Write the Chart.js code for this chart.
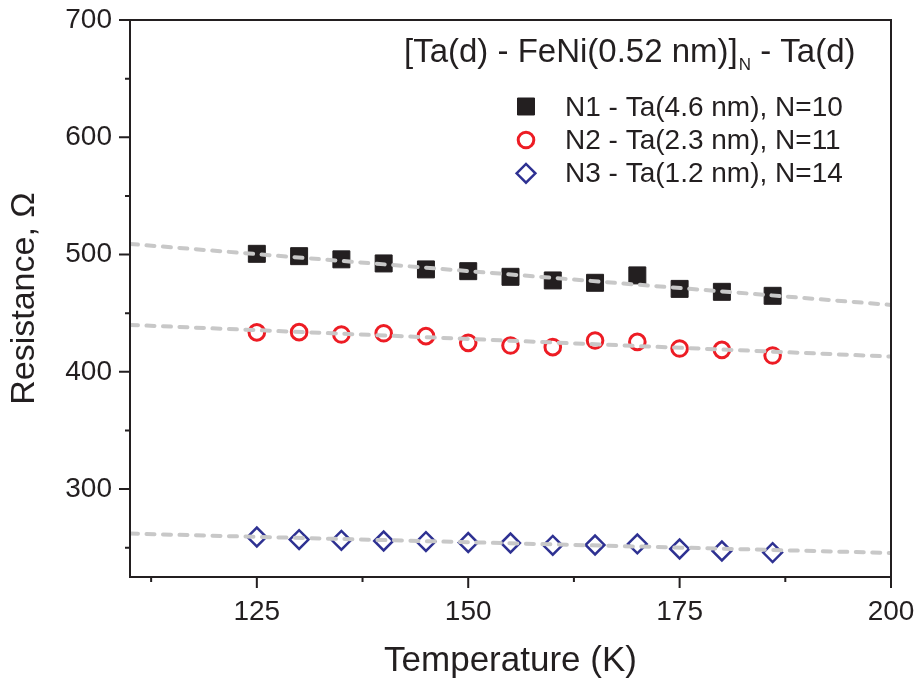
<!DOCTYPE html>
<html>
<head>
<meta charset="utf-8">
<script src="https://cdn.jsdelivr.net/npm/chart.js@4.4.0/dist/chart.umd.min.js"></script>
<style>
  html, body { margin: 0; padding: 0; background: #fff; }
  #wrap { width: 918px; height: 681px; }
</style>
</head>
<body>
<div id="wrap"><canvas id="chart" width="918" height="681"></canvas></div>
<script>
// Measurement temperatures (K)
const temperatures = [125, 130, 135, 140, 145, 150, 155, 160, 165, 170, 175, 180, 186];

// Resistance (Ohm) of each multilayer
const resN1 = [500.6, 498.6, 495.9, 492.4, 487.3, 485.8, 481.0, 477.9, 475.9, 482.2, 470.7, 468.2, 464.8];
const resN2 = [433.6, 433.8, 431.8, 432.9, 430.4, 424.7, 422.4, 421.0, 426.7, 425.5, 419.9, 418.7, 413.9];
const resN3 = [259.1, 256.9, 256.3, 255.7, 255.2, 254.4, 254.0, 252.0, 252.3, 253.2, 248.9, 247.2, 245.8];

// Linear fits, end points
const fitT = [110, 200];
const fitN1 = [509, 457];
const fitN2 = [440, 413];
const fitN3 = [262, 245.5];

const seriesNames = ['N1 - Ta(4.6 nm), N=10', 'N2 - Ta(2.3 nm), N=11', 'N3 - Ta(1.2 nm), N=14'];

// Axis ticks
const xMajorTicks = [125, 150, 175, 200];
const xMinorTicks = [112.5, 137.5, 162.5, 187.5];
const yMajorTicks = [300, 400, 500, 600, 700];
const yMinorTicks = [250, 350, 450, 550, 650];

const AXIS = '#231f20';
const FONT = "'Liberation Sans', Arial, Helvetica, sans-serif";

const toPoints = (xs, ys) => xs.map((t, i) => ({ x: t, y: ys[i] }));

const markers = [
    { pointStyle: 'rect', radius: 12, borderWidth: 1, fill: AXIS, stroke: AXIS },
    { pointStyle: 'circle', radius: 7.8, borderWidth: 3, fill: 'rgba(0,0,0,0)', stroke: '#ed1c24' },
    { pointStyle: 'rectRot', radius: 9.4, borderWidth: 2.5, fill: 'rgba(0,0,0,0)', stroke: '#2e3192' }
];

const scatterSet = (ys, m) => ({
    data: toPoints(temperatures, ys),
    pointStyle: m.pointStyle,
    pointRadius: m.radius,
    pointBorderWidth: m.borderWidth,
    pointBackgroundColor: m.fill,
    pointBorderColor: m.stroke,
    order: 1
});

const fitSet = (ys) => ({
    data: toPoints(fitT, ys),
    showLine: true,
    pointRadius: 0,
    borderColor: '#c8c8c8',
    borderWidth: 4,
    borderDash: [8, 8.5],
    borderCapStyle: 'round',
    order: 0
});

// Frame + tick marks (major long, minor short)
const axisPlugin = {
    id: 'axisFrame',
    afterDatasetsDraw(chart) {
        const { ctx, chartArea: a, scales: { x, y } } = chart;
        ctx.save();
        ctx.strokeStyle = AXIS;
        ctx.lineWidth = 2;
        ctx.strokeRect(a.left, a.top, a.right - a.left, a.bottom - a.top);
        ctx.beginPath();
        xMajorTicks.forEach(v => { const p = x.getPixelForValue(v); ctx.moveTo(p, a.bottom); ctx.lineTo(p, a.bottom + 11); });
        xMinorTicks.forEach(v => { const p = x.getPixelForValue(v); ctx.moveTo(p, a.bottom); ctx.lineTo(p, a.bottom + 5); });
        yMajorTicks.forEach(v => { const p = y.getPixelForValue(v); ctx.moveTo(a.left, p); ctx.lineTo(a.left - 11, p); });
        yMinorTicks.forEach(v => { const p = y.getPixelForValue(v); ctx.moveTo(a.left, p); ctx.lineTo(a.left - 5, p); });
        ctx.stroke();
        ctx.restore();
    }
};

// Header formula + legend in the upper right
const legendPlugin = {
    id: 'sampleLegend',
    afterDraw(chart) {
        const ctx = chart.ctx;
        ctx.save();
        ctx.fillStyle = AXIS;
        ctx.textBaseline = 'alphabetic';
        ctx.textAlign = 'left';

        let hx = 404;
        ctx.font = '33px ' + FONT;
        const part1 = '[Ta(d) - FeNi(0.52 nm)]';
        ctx.fillText(part1, hx, 62);
        hx += ctx.measureText(part1).width + 1;
        ctx.font = '17px ' + FONT;
        ctx.fillText('N', hx, 70);
        hx += ctx.measureText('N').width;
        ctx.font = '33px ' + FONT;
        ctx.fillText(' - Ta(d)', hx, 62);

        const rows = [106.5, 140, 173.3];
        ctx.font = '28px ' + FONT;
        seriesNames.forEach((name, i) => {
            const m = markers[i];
            ctx.fillStyle = m.fill;
            ctx.strokeStyle = m.stroke;
            ctx.lineWidth = m.borderWidth;
            Chart.helpers.drawPoint(ctx, { pointStyle: m.pointStyle, radius: m.radius, rotation: 0, borderWidth: m.borderWidth }, 526, rows[i]);
            ctx.fillStyle = AXIS;
            ctx.fillText(name, 565, rows[i] + 9);
        });
        ctx.restore();
    }
};

new Chart(document.getElementById('chart'), {
    type: 'scatter',
    data: {
        datasets: [
            scatterSet(resN1, markers[0]),
            scatterSet(resN2, markers[1]),
            scatterSet(resN3, markers[2]),
            fitSet(fitN1),
            fitSet(fitN2),
            fitSet(fitN3)
        ]
    },
    options: {
        responsive: false,
        animation: false,
        events: [],
        layout: { padding: { top: 20, right: 27, left: 0, bottom: 0 } },
        plugins: { legend: { display: false }, tooltip: { enabled: false } },
        scales: {
            x: {
                type: 'linear',
                min: 110,
                max: 200,
                border: { display: false },
                grid: { display: false, drawTicks: false },
                afterFit: (scale) => {
                    scale.height = 104;
                    scale.paddingLeft = 0;
                    scale.paddingRight = 0;
                },
                afterBuildTicks: (scale) => { scale.ticks = xMajorTicks.map(v => ({ value: v })); },
                ticks: {
                    autoSkip: false,
                    maxRotation: 0,
                    padding: 18,
                    color: AXIS,
                    font: { family: FONT, size: 28 }
                },
                title: {
                    display: true,
                    text: 'Temperature (K)',
                    color: AXIS,
                    padding: { top: 0, bottom: 0 },
                    font: { family: FONT, size: 35, lineHeight: 1.1 }
                }
            },
            y: {
                type: 'linear',
                min: 225,
                max: 700,
                border: { display: false },
                grid: { display: false, drawTicks: false },
                afterFit: (scale) => {
                    scale.width = 130;
                    scale.paddingTop = 0;
                    scale.paddingBottom = 0;
                },
                afterBuildTicks: (scale) => { scale.ticks = yMajorTicks.map(v => ({ value: v })); },
                ticks: {
                    autoSkip: false,
                    padding: 18,
                    color: AXIS,
                    font: { family: FONT, size: 28 }
                },
                title: {
                    display: true,
                    text: 'Resistance, Ω',
                    color: AXIS,
                    padding: { top: 6, bottom: 0 },
                    font: { family: FONT, size: 34, lineHeight: 1.1 }
                }
            }
        }
    },
    plugins: [axisPlugin, legendPlugin]
});
</script>
</body>
</html>
